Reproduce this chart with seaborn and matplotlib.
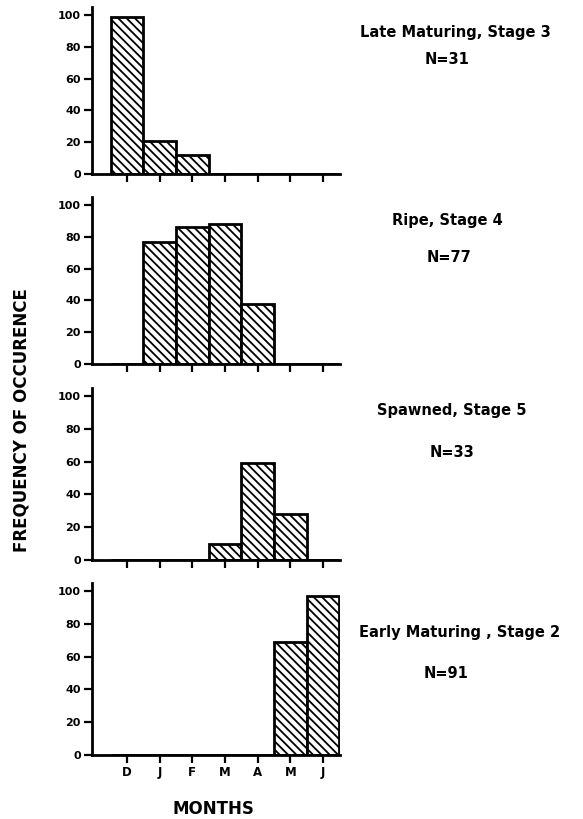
import matplotlib
matplotlib.use("Agg")
import matplotlib.pyplot as plt
import seaborn as sns
import pandas as pd

months = ["Dec", "Jan", "Feb", "Mar", "Apr", "May", "Jun"]
month_ticks = ["D", "J", "F", "M", "A", "M", "J"]

late_maturing = [99, 21, 12, 0, 0, 0, 0]
ripe = [0, 77, 86, 88, 38, 0, 0]
spawned = [0, 0, 0, 10, 59, 28, 0]
early_maturing = [0, 0, 0, 0, 0, 69, 97]

titles = ["Late Maturing, Stage 3", "Ripe, Stage 4", "Spawned, Stage 5", "Early Maturing , Stage 2"]
counts = ["N=31", "N=77", "N=33", "N=91"]
y_ticks = [0, 20, 40, 60, 80, 100]

sns.set_style("white")
plt.rcParams["font.family"] = ["DejaVu Sans"]
plt.rcParams["hatch.linewidth"] = 1.3
plt.rcParams["hatch.color"] = "black"
plt.rcParams["text.color"] = "black"
plt.rcParams["xtick.color"] = "black"
plt.rcParams["ytick.color"] = "black"
plt.rcParams["axes.labelcolor"] = "black"

W, H = 583, 819
fig = plt.figure(figsize=(W / 100, H / 100), dpi=100)

series = [late_maturing, ripe, spawned, early_maturing]
# (top px, bottom px) for each panel
panels = [(7, 174), (197, 364), (388, 560), (583, 755)]
text_pos = [((455, 32), (447, 60)), ((447, 220), (449, 258)),
            ((452, 411), (452, 452)), ((460, 632), (446, 674))]
left_px, right_px = 92, 340

for i, (vals, (t, b)) in enumerate(zip(series, panels)):
    ax = fig.add_axes([left_px / W, 1 - b / H, (right_px - left_px) / W, (b - t) / H])
    df = pd.DataFrame({"month": months, "freq": vals})
    sns.barplot(data=df, x="month", y="freq", order=months, ax=ax, color="white",
                edgecolor="black", linewidth=2, width=1.0, hatch="\\\\\\\\", saturation=1)
    ax.set_xlim(-1.07, 6.52)
    ax.set_ylim(0, 105)
    ax.set_yticks(y_ticks)
    ax.set_yticklabels([str(v) for v in y_ticks], fontsize=8, fontweight="bold", color="black")
    ax.set_xticks(range(len(months)))
    if i == 3:
        ax.set_xticklabels(month_ticks, fontsize=8.5, fontweight="bold", color="black")
    else:
        ax.set_xticklabels([])
    ax.set_xlabel("")
    ax.set_ylabel("")
    for s in ["top", "right"]:
        ax.spines[s].set_visible(False)
    for s in ["left", "bottom"]:
        ax.spines[s].set_linewidth(2)
        ax.spines[s].set_color("black")
    ax.tick_params(axis="both", direction="out", length=6, width=1.6, color="black",
                   labelcolor="black", left=True, bottom=True, pad=2)
    ax.patch.set_alpha(0)
    (tx, ty), (nx, ny) = text_pos[i]
    fig.text(tx / W, 1 - ty / H, titles[i], ha="center", va="center",
             fontsize=10.5, fontweight="bold", color="black")
    fig.text(nx / W, 1 - ny / H, counts[i], ha="center", va="center",
             fontsize=10.5, fontweight="bold", color="black")

fig.text(22 / W, 1 - 420 / H, "FREQUENCY OF OCCURENCE", rotation=90, ha="center",
         va="center", fontsize=12, fontweight="bold", color="black")
fig.text(213 / W, 1 - 809 / H, "MONTHS", ha="center", va="center",
         fontsize=12, fontweight="bold", color="black")

fig.savefig("out.png", dpi=100)
